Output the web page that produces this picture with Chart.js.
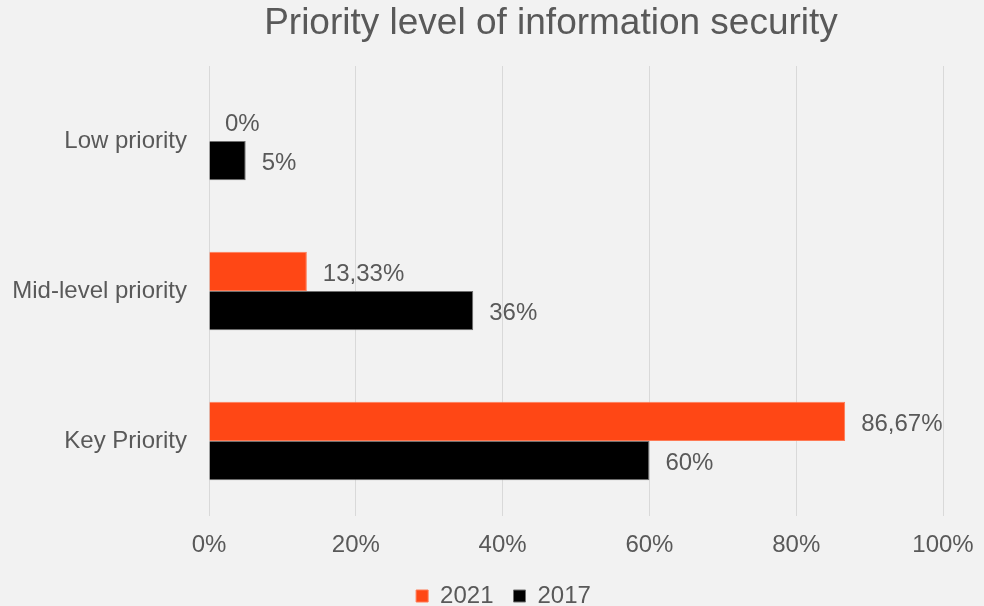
<!DOCTYPE html>
<html>
<head>
<meta charset="utf-8">
<script src="https://cdn.jsdelivr.net/npm/chart.js@4/dist/chart.umd.min.js"></script>
<style>
  html, body { margin: 0; padding: 0; background: #F2F2F2; }
  #wrap { width: 984px; height: 606px; position: relative; }
</style>
</head>
<body>
<div id="wrap"><canvas id="c" width="984" height="606"></canvas></div>
<script>
// ---- data ----
const chartTitle = 'Priority level of information security';
const categories = ['Low priority', 'Mid-level priority', 'Key Priority'];
const seriesNames = ['2021', '2017'];
const values2021 = [0, 13.33, 86.67];
const values2017 = [5, 36, 60];
const xTicks = [0, 20, 40, 60, 80, 100];

const FONT = "'Liberation Sans', Arial, sans-serif";
const TEXT = '#595959';

const fmt = v => String(v).replace('.', ',') + '%';

const bgPlugin = {
  id: 'bg',
  beforeDraw(chart) {
    const ctx = chart.ctx;
    ctx.save();
    ctx.fillStyle = '#F2F2F2';
    ctx.fillRect(0, 0, chart.width, chart.height);
    ctx.restore();
  }
};

const titlePlugin = {
  id: 'customTitle',
  afterDraw(chart) {
    const ctx = chart.ctx;
    ctx.save();
    ctx.font = '37px ' + FONT;
    ctx.fillStyle = TEXT;
    ctx.textAlign = 'center';
    ctx.textBaseline = 'alphabetic';
    ctx.fillText(chartTitle, 551, 34);
    ctx.restore();
  }
};

const legendShift = {
  id: 'legendShift',
  afterLayout(chart) {
    if (chart.legend) {
      chart.legend.top += 12;
      chart.legend.bottom += 12;
      chart.legend.left += 32;
      chart.legend.right += 32;
    }
  }
};

const valueLabels = {
  id: 'valueLabels',
  afterDatasetsDraw(chart) {
    const ctx = chart.ctx;
    ctx.save();
    ctx.font = '24px ' + FONT;
    ctx.fillStyle = TEXT;
    ctx.textAlign = 'left';
    ctx.textBaseline = 'middle';
    chart.data.datasets.forEach((ds, di) => {
      const meta = chart.getDatasetMeta(di);
      meta.data.forEach((el, i) => {
        ctx.fillText(fmt(ds.data[i]), el.x + 16, el.y + 3);
      });
    });
    ctx.restore();
  }
};

new Chart(document.getElementById('c'), {
  type: 'bar',
  data: {
    labels: categories,
    datasets: [
      {
        label: seriesNames[0],
        data: values2021,
        backgroundColor: '#FF4715',
        borderColor: '#FF7A55',
        borderWidth: 1,
        barPercentage: 1,
        categoryPercentage: 0.522
      },
      {
        label: seriesNames[1],
        data: values2017,
        backgroundColor: '#000000',
        borderColor: '#6f6f6f',
        borderWidth: 1,
        barPercentage: 1,
        categoryPercentage: 0.522
      }
    ]
  },
  options: {
    indexAxis: 'y',
    responsive: false,
    animation: false,
    devicePixelRatio: 1,
    layout: { padding: { left: 0, right: 41, top: 66, bottom: 0 } },
    plugins: {
      title: { display: false },
      tooltip: { enabled: false },
      legend: {
        position: 'bottom',
        labels: {
          boxWidth: 12,
          boxHeight: 12,
          padding: 20,
          color: TEXT,
          font: { family: FONT, size: 24 }
        }
      }
    },
    scales: {
      x: {
        min: 0,
        max: 100,
        afterBuildTicks(scale) { scale.ticks = xTicks.map(v => ({ value: v })); },
        afterFit(scale) { scale.height = 36; },
        grid: { color: '#D9D9D9', lineWidth: 1, drawTicks: true, tickLength: 10, tickColor: 'rgba(0,0,0,0)' },
        border: { display: false },
        ticks: {
          padding: 5,
          color: TEXT,
          font: { family: FONT, size: 24 },
          callback: v => v + '%'
        }
      },
      y: {
        afterFit(scale) { scale.width = 209; },
        grid: { display: false, drawTicks: false },
        border: { display: false },
        ticks: {
          padding: 22,
          color: TEXT,
          font: { family: FONT, size: 24 }
        }
      }
    }
  },
  plugins: [bgPlugin, legendShift, valueLabels, titlePlugin]
});
</script>
</body>
</html>
